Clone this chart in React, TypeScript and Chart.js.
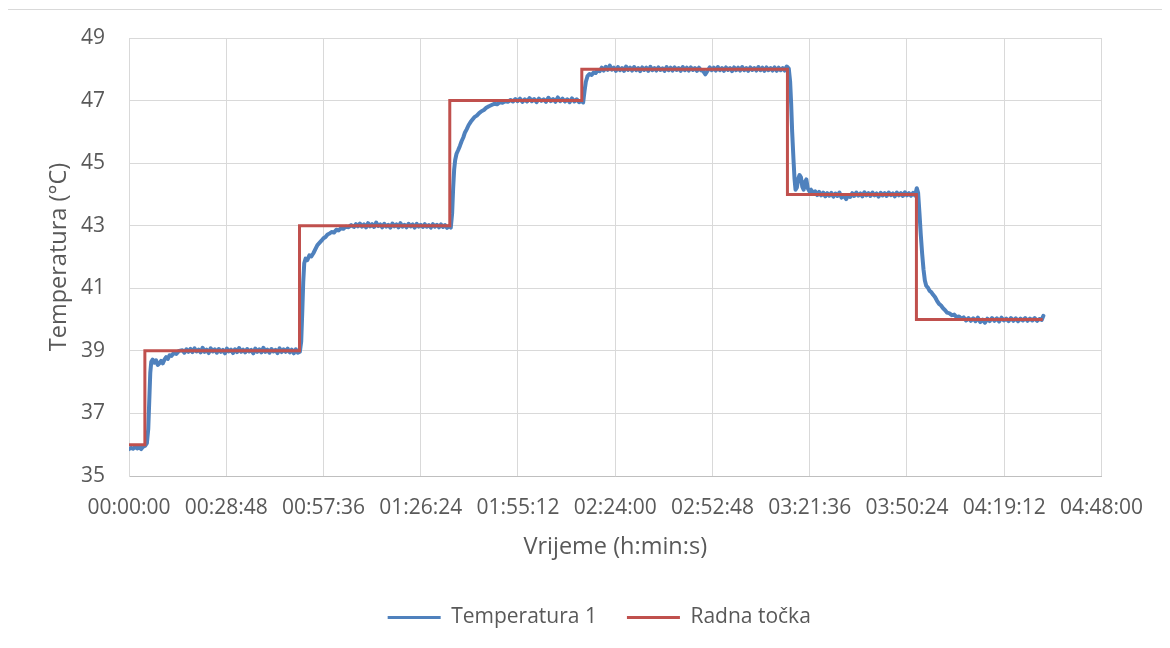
import React, { useEffect, useRef } from "react";
import { Chart, registerables } from "chart.js";

Chart.register(...registerables);

// Time in minutes, temperature in °C
const temperature1: [number, number][] = [
  [0,35.86],[0.6,35.9],[1.2,35.87],[1.8,35.93],[2.4,35.88],[3.0,35.92],[3.6,35.86],[4.2,35.94],[4.8,35.97],[5.3,36.05],
  [5.7,36.5],[6.0,37.4],[6.3,38.3],[6.6,38.65],[7.0,38.72],[7.5,38.62],[8.0,38.7],[8.5,38.55],[9.0,38.6],[9.5,38.68],[10.0,38.6],[10.5,38.72],[11.0,38.8],[11.5,38.74],[12.0,38.86],[12.6,38.84],[13.2,38.93],[14.0,38.9],[14.8,39.0],
  [15.8,39.02],[16.4,38.94],[17.0,39.05],[17.6,38.97],[18.2,39.06],[18.8,38.96],[19.4,39.08],[20.0,38.98],[20.6,39.04],[21.2,38.95],[21.8,39.1],[22.4,38.97],[23.0,39.04],[23.6,38.93],[24.2,39.08],[24.8,38.98],[25.4,39.05],[26.0,38.94],[26.6,39.06],[27.2,38.97],[27.8,39.03],[28.4,38.92],[29.0,39.07],[29.6,38.98],[30.2,39.04],[30.8,38.93],[31.4,39.05],[32.0,38.96],[32.6,39.09],[33.2,38.97],[33.8,39.04],[34.4,38.95],[35.0,39.06],[35.6,38.98],[36.2,39.03],[36.8,38.92],[37.4,39.07],[38.0,38.97],[38.6,39.05],[39.2,38.95],[39.8,39.1],[40.4,38.97],[41.0,39.04],[41.6,38.94],[42.2,39.06],[42.8,38.98],[43.4,39.03],[44.0,38.93],[44.6,39.08],[45.2,38.96],[45.8,39.05],[46.4,38.97],[47.0,39.07],[47.6,38.95],[48.2,39.04],[48.8,38.92],[49.4,39.05],[50.0,38.94],[50.6,38.97],
  [51.0,39.3],[51.3,40.2],[51.6,41.2],[51.9,41.8],[52.3,41.95],[52.8,41.9],[53.4,42.05],[54.0,42.02],[54.6,42.12],[55.2,42.25],[55.8,42.38],[56.4,42.45],[57.0,42.52],[57.6,42.6],[58.2,42.64],[58.8,42.72],[59.4,42.75],[60.0,42.8],[60.7,42.78],[61.4,42.87],[62.1,42.85],[62.8,42.92],[63.5,42.9],[64.2,42.97],[65.0,42.95],[65.8,43.02],
  [66.6,42.96],[67.2,43.05],[67.8,42.98],[68.4,43.07],[69.0,42.97],[69.6,43.04],[70.2,42.95],[70.8,43.08],[71.4,42.98],[72.0,43.05],[72.6,42.96],[73.2,43.1],[73.8,42.99],[74.4,43.04],[75.0,42.95],[75.6,43.06],[76.2,42.97],[76.8,43.03],[77.4,42.94],[78.0,43.07],[78.6,42.98],[79.2,43.04],[79.8,42.95],[80.4,43.08],[81.0,42.97],[81.6,43.03],[82.2,42.95],[82.8,43.06],[83.4,42.98],[84.0,43.04],[84.6,42.94],[85.2,43.06],[85.8,42.97],[86.4,43.03],[87.0,42.96],[87.6,43.05],[88.2,42.97],[88.8,43.02],[89.4,42.94],[90.0,43.05],[90.6,42.97],[91.2,43.03],[91.8,42.95],[92.4,43.04],[93.0,42.96],[93.6,43.02],[94.2,42.93],[94.8,42.99],[95.3,42.94],
  [95.7,43.4],[96.0,44.2],[96.3,44.8],[96.6,45.1],[97.0,45.3],[97.5,45.42],[98.0,45.55],[98.5,45.7],[99.0,45.82],[99.5,45.98],[100.0,46.08],[100.6,46.22],[101.2,46.32],[101.8,46.4],[102.4,46.48],[103.0,46.52],[103.7,46.6],[104.4,46.66],[105.1,46.7],[105.8,46.77],[106.6,46.82],[107.4,46.86],[108.2,46.9],[109.0,46.88],[109.8,46.95],[110.6,46.93],[111.4,46.98],[112.2,46.96],[113.0,47.02],
  [113.7,46.97],[114.4,47.05],[115.1,46.98],[115.8,47.06],[116.5,46.96],[117.2,47.04],[117.9,46.97],[118.6,47.08],[119.3,46.98],[120.0,47.05],[120.7,46.95],[121.4,47.06],[122.1,46.99],[122.8,47.04],[123.5,46.96],[124.2,47.09],[124.9,46.98],[125.6,47.05],[126.3,46.96],[127.0,47.1],[127.7,46.98],[128.4,47.06],[129.1,46.97],[129.8,47.04],[130.5,46.95],[131.2,47.07],[131.9,46.97],[132.6,47.04],[133.3,46.95],[134.0,46.98],[134.5,46.94],
  [134.9,47.3],[135.3,47.6],[135.8,47.78],[136.4,47.85],[137.0,47.82],[137.6,47.9],[138.2,47.88],[138.8,47.97],[139.4,47.94],[140.0,48.05],[140.6,47.96],[141.2,48.08],[141.8,47.98],[142.4,48.12],[143.0,47.99],[143.6,48.05],[144.2,47.95],[144.8,48.07],[145.4,47.97],[146.0,48.04],[146.6,47.95],[147.2,48.09],[147.8,47.98],[148.4,48.05],[149.0,47.96],[149.6,48.07],[150.2,47.97],[150.8,48.04],[151.4,47.94],[152.0,48.06],[152.6,47.98],[153.2,48.05],[153.8,47.95],[154.4,48.08],[155.0,47.97],[155.6,48.04],[156.2,47.96],[156.8,48.06],[157.4,47.98],[158.0,48.03],[158.6,47.95],[159.2,48.07],[159.8,47.97],[160.4,48.05],[161.0,47.96],[161.6,48.06],[162.2,47.98],[162.8,48.04],[163.4,47.95],[164.0,48.07],[164.6,47.97],[165.2,48.05],[165.8,47.96],[166.4,48.06],[167.0,47.98],[167.6,48.04],[168.2,47.95],[168.8,48.05],[169.4,47.97],[170.0,47.95],[170.7,47.84],[171.4,47.96],[172.0,48.06],[172.6,47.97],[173.2,48.05],[173.8,47.96],[174.4,48.07],[175.0,47.97],[175.6,48.04],[176.2,47.95],[176.8,48.06],[177.4,47.98],[178.0,48.04],[178.6,47.94],[179.2,48.06],[179.8,47.97],[180.4,48.05],[181.0,47.96],[181.6,48.07],[182.2,47.97],[182.8,48.04],[183.4,47.95],[184.0,48.06],[184.6,47.98],[185.2,48.04],[185.8,47.96],[186.4,48.07],[187.0,47.97],[187.6,48.05],[188.2,47.95],[188.8,48.06],[189.4,47.97],[190.0,48.04],[190.6,47.96],[191.2,48.06],[191.8,47.95],[192.4,48.05],[193.0,47.97],[193.6,48.04],[194.2,47.96],[194.8,48.09],[195.4,48.02],
  [195.8,47.6],[196.1,46.9],[196.4,46.0],[196.8,45.1],[197.1,44.5],[197.4,44.15],[197.8,44.22],[198.2,44.5],[198.6,44.62],[199.0,44.55],[199.4,44.25],[199.8,44.15],[200.2,44.4],[200.6,44.48],[201.0,44.2],[201.5,44.1],[202.0,44.15],[202.6,44.05],[203.2,44.1],[203.8,43.98],[204.4,44.08],[205.0,43.97],[205.6,44.06],[206.2,43.94],[206.8,44.04],[207.4,43.96],[208.0,44.05],[208.6,43.93],[209.2,44.03],[209.8,43.95],[210.4,44.06],[211.0,43.9],[211.7,43.96],[212.4,43.85],[213.0,43.98],[213.6,43.92],[214.2,44.04],[214.8,43.95],[215.4,44.06],[216.0,43.96],[216.6,44.03],[217.2,43.94],[217.8,44.07],[218.4,43.97],[219.0,44.04],[219.6,43.95],[220.2,44.06],[220.8,43.97],[221.4,44.03],[222.0,43.93],[222.6,44.05],[223.2,43.97],[223.8,44.04],[224.4,43.95],[225.0,44.06],[225.6,43.98],[226.2,44.03],[226.8,43.94],[227.4,44.06],[228.0,43.97],[228.6,44.04],[229.2,43.95],[229.8,44.07],[230.4,43.97],[231.0,44.04],[231.6,43.96],[232.2,44.05],[232.8,43.97],[233.3,44.2],[233.7,44.05],
  [234.1,43.4],[234.5,42.7],[234.9,42.1],[235.3,41.6],[235.7,41.25],[236.1,41.08],[236.6,41.02],[237.1,40.92],[237.6,40.88],[238.1,40.8],[238.7,40.72],[239.3,40.6],[239.9,40.5],[240.5,40.45],[241.1,40.36],[241.7,40.3],[242.3,40.22],[243.0,40.2],[243.7,40.14],[244.4,40.16],[245.1,40.08],[245.8,40.1],[246.5,40.02],[247.2,40.07],[247.9,39.97],[248.6,40.05],[249.3,39.96],[250.0,40.04],[250.7,39.95],[251.4,40.06],[252.1,39.92],[252.8,40.0],[253.5,39.9],[254.2,40.03],[254.9,39.95],[255.6,40.05],[256.3,39.96],[257.0,40.04],[257.7,39.94],[258.4,40.06],[259.1,39.97],[259.8,40.03],[260.5,39.95],[261.2,40.05],[261.9,39.96],[262.6,40.04],[263.3,39.95],[264.0,40.03],[264.7,39.97],[265.4,40.05],[266.1,39.96],[266.8,40.03],[267.5,39.97],[268.2,40.05],[268.9,39.96],[269.6,40.02],[270.3,39.99],[270.8,40.12],
];

// Set-point ("Radna točka") step changes: start time (minutes) and value (°C)
const setpointTimes = [0, 4.7, 50.5, 95.0, 134.1, 195.0, 233.2, 270.6];
const setpointValues = [36, 39, 43, 47, 48, 44, 40, 40];

const seriesNames = ["Temperatura 1", "Radna točka"];
const xAxisTitle = "Vrijeme (h:min:s)";
const yAxisTitle = "Temperatura (°C)";
const xMaxSeconds = 17280; // 04:48:00
const xStepSeconds = 1728; // 00:28:48
const yMin = 35;
const yMax = 49;
const yStep = 2;

const pad2 = (n: number) => String(n).padStart(2, "0");
const formatHMS = (v: number) => {
  const s = Math.round(v);
  const h = Math.floor(s / 3600);
  const m = Math.floor((s % 3600) / 60);
  const sec = s % 60;
  return `${pad2(h)}:${pad2(m)}:${pad2(sec)}`;
};

const FONT = "'Open Sans', Lato, sans-serif";
const TEXT = "#595959";

const legendShift = {
  id: "legendShift",
  afterLayout(c: any) {
    if (c.legend) {
      c.legend.left -= 16;
      c.legend.right -= 16;
    }
  },
};

export default function App() {
  const ref = useRef<HTMLCanvasElement | null>(null);

  useEffect(() => {
    if (!ref.current) return;
    const tempData = temperature1.map(([t, v]) => ({ x: t * 60, y: v }));
    const spData: { x: number; y: number }[] = [];
    setpointTimes.forEach((t, i) => {
      if (i > 0) spData.push({ x: t * 60, y: setpointValues[i - 1] });
      spData.push({ x: t * 60, y: setpointValues[i] });
    });

    const chart = new Chart(ref.current, {
      type: "line",
      data: {
        datasets: [
          {
            label: seriesNames[0],
            data: tempData,
            borderColor: "#4F81BD",
            backgroundColor: "#4F81BD",
            borderWidth: 4,
            pointRadius: 0,
            borderJoinStyle: "round",
            borderCapStyle: "round",
            tension: 0,
            order: 2,
          },
          {
            label: seriesNames[1],
            data: spData,
            borderColor: "#C0504D",
            backgroundColor: "#C0504D",
            borderWidth: 3,
            pointRadius: 0,
            borderJoinStyle: "miter",
            tension: 0,
            order: 1,
          },
        ],
      },
      plugins: [legendShift],
      options: {
        responsive: false,
        animation: false,
        parsing: false as any,
        layout: { padding: { top: 28, right: 59, bottom: 2, left: 0 } },
        plugins: {
          tooltip: { enabled: false },
          legend: {
            position: "bottom",
            fullSize: false,
            labels: {
              boxWidth: 53,
              boxHeight: 3,
              padding: 30,
              color: TEXT,
              font: { family: FONT, size: 21 },
              sort: (a: any, b: any) => a.datasetIndex - b.datasetIndex,
              generateLabels: (c: any) =>
                Chart.defaults.plugins.legend.labels
                  .generateLabels(c)
                  .map((it: any) => ({ ...it, lineWidth: 0 })),
            },
          },
        },
        scales: {
          x: {
            type: "linear",
            min: 0,
            max: xMaxSeconds,
            afterFit: (s: any) => {
              s.height = 101;
            },
            ticks: {
              stepSize: xStepSeconds,
              autoSkip: false,
              maxRotation: 0,
              minRotation: 0,
              padding: 19,
              color: TEXT,
              font: { family: FONT, size: 21 },
              callback: (v: any) => formatHMS(Number(v)),
            },
            grid: { color: "#d9d9d9", drawTicks: false, lineWidth: 1 },
            border: { color: "#bfbfbf", width: 1 },
            title: {
              display: true,
              text: xAxisTitle,
              color: TEXT,
              font: { family: FONT, size: 23.5 },
              padding: { top: 0, bottom: 16 },
            },
          },
          y: {
            type: "linear",
            min: yMin,
            max: yMax,
            afterFit: (s: any) => {
              s.width = 121;
              s.paddingTop = 0;
              s.paddingBottom = 0;
            },
            ticks: {
              stepSize: yStep,
              padding: 24,
              color: TEXT,
              font: { family: FONT, size: 21 },
            },
            grid: { color: "#d9d9d9", drawTicks: false, lineWidth: 1 },
            border: { color: "#d9d9d9", width: 1 },
            title: {
              display: true,
              text: yAxisTitle,
              color: TEXT,
              font: { family: FONT, size: 23.5 },
              padding: { top: 37, bottom: 0 },
            },
          },
        },
      },
    });
    return () => chart.destroy();
  }, []);

  return (
    <div
      style={{
        position: "relative",
        left: -1,
        top: 1,
        width: 1156,
        height: 632,
        boxSizing: "border-box",
        border: "1px solid #d9d9d9",
        background: "#fff",
      }}
    >
      <canvas ref={ref} width={1154} height={630} style={{ display: "block" }} />
    </div>
  );
}
